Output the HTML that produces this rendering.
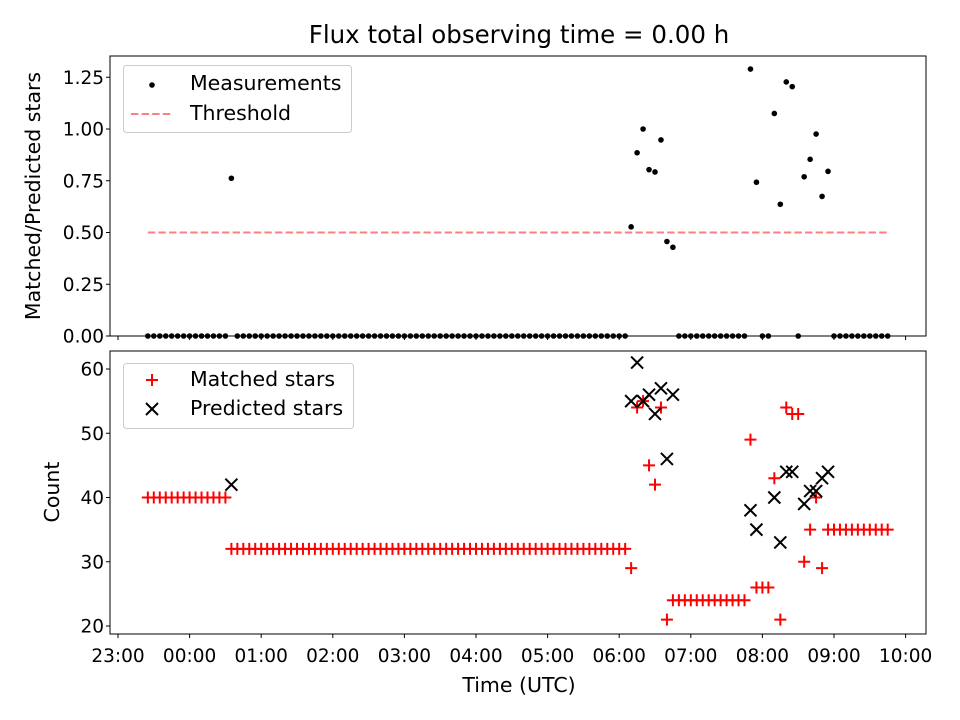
<!DOCTYPE html>
<html><head><meta charset="utf-8"><style>
html,body{margin:0;padding:0;background:#fff;}
svg{display:block;font-family:"DejaVu Sans","Liberation Sans",sans-serif;}
</style></head><body>
<svg id="chart" width="960" height="720" viewBox="0 0 960 720">
<rect width="960" height="720" fill="#fff"/>
<text x="519" y="43" font-size="24.5" text-anchor="middle">Flux total observing time = 0.00 h</text>
<g id="topPanel"></g>
<g id="botPanel"></g>
<text transform="translate(40,196) rotate(-90)" font-size="20.5" text-anchor="middle">Matched/Predicted stars</text>
<text transform="translate(59,492) rotate(-90)" font-size="20.5" text-anchor="middle">Count</text>
<text x="519" y="692" font-size="20.5" text-anchor="middle">Time (UTC)</text>
<g>
<rect x="123.5" y="65.5" width="228" height="67" rx="3" fill="#fff" fill-opacity="0.8" stroke="#ccc"/>
<circle cx="152" cy="85" r="2.8" fill="#000"/>
<text x="190" y="90" font-size="20.5">Measurements</text>
<line x1="131" y1="114" x2="173" y2="114" stroke="#ff7f7f" stroke-width="2" stroke-dasharray="7.4,3.2"/>
<text x="190" y="120" font-size="20.5">Threshold</text>
</g>
<g>
<rect x="123.5" y="363.5" width="230" height="65" rx="3" fill="#fff" fill-opacity="0.8" stroke="#ccc"/>
<path d="M146 380h12M152 374v12" stroke="red" stroke-width="2"/>
<text x="190" y="386" font-size="20.5">Matched stars</text>
<path d="M146 403l12 12M158 403l-12 12" stroke="#000" stroke-width="2"/>
<text x="190" y="415" font-size="20.5">Predicted stars</text>
</g>
</svg>
<script>
// minutes since 23:00
const times = [25,30,35,40,45,50,55,60,65,70,75,80,85,90,95,100,105,110,115,120,125,130,135,140,145,150,155,160,165,170,175,180,185,190,195,200,205,210,215,220,225,230,235,240,245,250,255,260,265,270,275,280,285,290,295,300,305,310,315,320,325,330,335,340,345,350,355,360,365,370,375,380,385,390,395,400,405,410,415,420,425,430,435,440,445,450,455,460,465,470,475,480,485,490,495,500,505,510,515,520,525,530,535,540,545,550,555,560,565,570,575,580,585,590,595,600,605,610,615,620,625,630,635,640,645];
const matched = [
40,40,40,40,40,40,40,40,40,40,
40,40,40,40,32,32,32,32,32,32,
32,32,32,32,32,32,32,32,32,32,
32,32,32,32,32,32,32,32,32,32,
32,32,32,32,32,32,32,32,32,32,
32,32,32,32,32,32,32,32,32,32,
32,32,32,32,32,32,32,32,32,32,
32,32,32,32,32,32,32,32,32,32,
32,29,54,55,45,42,54,21,24,24,
24,24,24,24,24,24,24,24,24,24,
24,49,26,26,26,43,21,54,53,53,
30,35,40,29,35,35,35,35,35,35,
35,35,35,35,35];
const predicted = [
null,null,null,null,null,null,null,null,null,null,
null,null,null,null,42,null,null,null,null,null,
null,null,null,null,null,null,null,null,null,null,
null,null,null,null,null,null,null,null,null,null,
null,null,null,null,null,null,null,null,null,null,
null,null,null,null,null,null,null,null,null,null,
null,null,null,null,null,null,null,null,null,null,
null,null,null,null,null,null,null,null,null,null,
null,55,61,55,56,53,57,46,56,null,
null,null,null,null,null,null,null,null,null,null,
null,38,35,null,null,40,33,44,44,null,
39,41,41,43,44,null,null,null,null,null,
null,null,null,null,null];
const threshold = 0.5;
const xTickLabels = ["23:00","00:00","01:00","02:00","03:00","04:00","05:00","06:00","07:00","08:00","09:00","10:00"];
const topTicks = [0,0.25,0.5,0.75,1.0,1.25];
const botTicks = [20,30,40,50,60];

const NS="http://www.w3.org/2000/svg";
function mk(tag,attrs,parent){const e=document.createElementNS(NS,tag);for(const k in attrs)e.setAttribute(k,attrs[k]);parent.appendChild(e);return e;}
const X0=110,X1=926;
const xs = m => 118 + m*71.6/60;
const yTop = v => 336 - v*207;
const yBot = v => 626 - (v-20)*6.425;
const topG=document.getElementById('topPanel'), botG=document.getElementById('botPanel');

function frame(g,y0,y1,name){
  const r=mk('rect',{x:X0,y:y0,width:X1-X0,height:y1-y0,fill:'none',stroke:'#000','stroke-width':1},g);
  
  
  xTickLabels.forEach((lab,i)=>{
    const x=xs(i*60);
    const t=mk('line',{x1:x,y1:y1,x2:x,y2:y1+4,stroke:'#000'},g);
    
    
  });
}
// top panel
frame(topG,56,336,'top-plot-frame');
topTicks.forEach(v=>{
  const y=yTop(v);
  mk('line',{x1:X0-4,y1:y,x2:X0,y2:y,stroke:'#000'},topG);
  const t=mk('text',{x:X0-6,y:y+6.5,'font-size':18.5,'text-anchor':'end'},topG);
  t.textContent=v.toFixed(2);
  
  
});
const th=mk('line',{x1:xs(times[0]),y1:yTop(threshold),x2:xs(times[times.length-1]),y2:yTop(threshold),stroke:'#ff7f7f','stroke-width':2,'stroke-dasharray':'7.4,3.2'},topG);


times.forEach((m,i)=>{
  const r = predicted[i] ? matched[i]/predicted[i] : 0;
  const c=mk('circle',{cx:xs(m),cy:yTop(r),r:2.8,fill:'#000'},topG);
  
  
});
// bottom panel
frame(botG,351,634,'bottom-plot-frame');
botTicks.forEach(v=>{
  const y=yBot(v);
  mk('line',{x1:X0-4,y1:y,x2:X0,y2:y,stroke:'#000'},botG);
  const t=mk('text',{x:X0-6,y:y+6.5,'font-size':18.5,'text-anchor':'end'},botG);
  t.textContent=v;
  
  
});
xTickLabels.forEach((lab,i)=>{
  const t=mk('text',{x:xs(i*60),y:662,'font-size':18.5,'text-anchor':'middle'},botG);
  t.textContent=lab;
  
  
});
times.forEach((m,i)=>{
  const x=xs(m), y=yBot(matched[i]);
  const p=mk('path',{d:`M${x-6} ${y}h12M${x} ${y-6}v12`,stroke:'red','stroke-width':2,fill:'none'},botG);
  
  
});
times.forEach((m,i)=>{
  if(predicted[i]==null) return;
  const x=xs(m), y=yBot(predicted[i]);
  const p=mk('path',{d:`M${x-6} ${y-6}l12 12M${x+6} ${y-6}l-12 12`,stroke:'#000','stroke-width':2,fill:'none'},botG);
  
  
});
</script>
</body></html>
